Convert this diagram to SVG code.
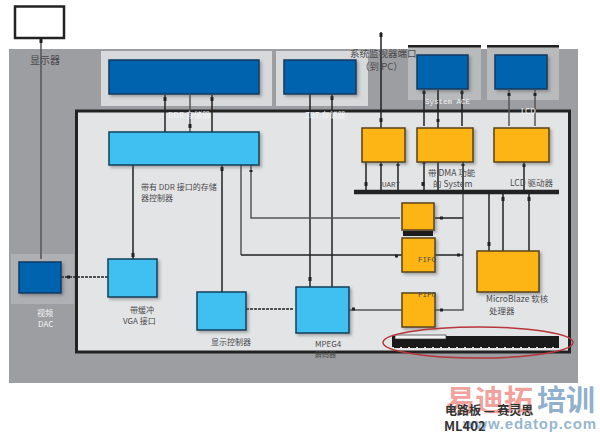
<svg xmlns="http://www.w3.org/2000/svg" width="600" height="433" viewBox="0 0 600 433">
<defs>
<filter id="sh" x="-15%" y="-15%" width="135%" height="135%"><feDropShadow dx="2" dy="2" stdDeviation="1.5" flood-color="#555" flood-opacity="0.45"/></filter>
</defs>
<style>
text{font-family:"Noto Sans CJK SC","Liberation Sans",sans-serif;font-size:8px;fill:#4a4a4c}
.w{fill:#f4f4f4}
.m{font-family:"Liberation Mono","Noto Sans CJK SC",monospace;font-size:7.500px}
.blue{fill:#0563ae;stroke:#0b3a63;stroke-width:1.5;filter:url(#sh)}
.cyan{fill:#41c0f0;stroke:#123f5c;stroke-width:1.5;filter:url(#sh)}
.or{fill:#fdb515;stroke:#5a4316;stroke-width:1.5;filter:url(#sh)}
.pan{fill:#d8d9db}
#wires path{fill:none;stroke:#222;stroke-width:1.5}
#wires .g{stroke:#555}
#wires .d{stroke-dasharray:3 1;stroke-width:1.6}
#wires .t{stroke-width:3}
</style>
<rect x="9" y="49" width="569" height="334" fill="#9d9ea1"/>
<rect class="pan" x="101" y="51" width="171" height="55"/>
<rect class="pan" x="276" y="51" width="92" height="55"/>
<rect x="408" y="47" width="73" height="53" fill="#b9babc"/>
<rect x="487" y="47" width="72" height="53" fill="#b9babc"/>
<rect x="11" y="254" width="63" height="50" fill="#aeb0b4"/>
<rect x="76.500" y="111" width="493" height="241" fill="#e3e4e6" stroke="#222" stroke-width="3"/>
<g id="bars"><rect x="408" y="45" width="73" height="2.500" fill="#222"/><rect x="487" y="45" width="72" height="2.500" fill="#222"/></g>
<g id="wires">
<path class="g" d="M41 38V259"/>
<path d="M165 95V132M212 95V132"/><path class="g" d="M190 95V132"/>
<path d="M310 94V287"/><path d="M332 94V287"/>
<path d="M381 32V128"/>
<path d="M424 90V126M438 90V128M462 90V126"/>
<path class="g" d="M509 90V126M535 90V126"/>
<path d="M366 162V192M381 162V192M398 162V192"/>
<path d="M424 162V192M438 162V192M463 162V192"/>
<path d="M524 162V192"/>
<path d="M489 192V251M503 192V251M529 192V251"/>
<path class="g" d="M463 192V310H435"/>
<path d="M435 218H463M435 255H463"/>
<path d="M133 165V259M222 165V292"/>
<path class="g" d="M241 165V255"/>
<path d="M241 255H402"/>
<path class="g" d="M251 165V218H400"/>
<path class="d" d="M61 277H108"/>
<path class="d" d="M246 309H294"/>
<path class="g" d="M349 310H402"/>
<path d="M354 192H559" style="stroke-width:4.500"/>
<path class="t" d="M41 39V43M165 97V101M212 97V101M190 124V128M332 96V100M381 33V37M381 118V122M424 91V94M462 91V94M438 119V122M509 93V96M535 93V96M366 182V186M423 182V186M381 164V166M398 164V166M424 162V164M463 164V166M524 164V167M503 197V201M529 197V201M489 242V246M222 167V171M251 170V172M133 253V257M310 277V281M67 277H70M352 309H355M440 310H443M440 218H443M457 255H460M395 256H398"/>
</g>
<g id="monitor"><rect x="15" y="6.500" width="49" height="31.500" fill="#fff" stroke="#222" stroke-width="2.500"/><text x="30" y="64" style="font-size:10px">显示器</text></g>
<g id="ddr-mem"><rect class="blue" x="109" y="60" width="150" height="34"/><text class="w" x="168" y="118">DDR 存储器</text></g>
<g id="zbt-mem"><rect class="blue" x="284" y="60" width="72" height="34"/><text class="w" x="305" y="118">ZBT 存储器</text></g>
<g id="system-ace"><rect class="blue" x="417" y="55" width="51" height="34"/><text class="m w" x="425" y="104">System ACE</text></g>
<g id="lcd"><rect class="blue" x="495" y="55" width="52" height="34"/><text class="w" x="521" y="114">LCD</text></g>
<g id="dac"><rect class="blue" x="19" y="262" width="42" height="31"/><text class="w" x="37" y="316">视频</text><text class="w" x="38" y="327">DAC</text></g>
<g id="ddr-ctrl"><rect class="cyan" x="109" y="132" width="150" height="33"/><text x="141" y="190">带有 DDR 接口的存储</text><text x="141" y="201">器控制器</text></g>
<g id="vga"><rect class="cyan" x="108" y="259" width="49" height="38"/><text x="130" y="313">带缓冲</text><text x="123" y="324">VGA 接口</text></g>
<g id="display-ctrl"><rect class="cyan" x="197" y="292" width="49" height="38"/><text x="211" y="345">显示控制器</text></g>
<g id="mpeg4"><rect class="cyan" x="296" y="287" width="53" height="46"/><text x="315" y="347">MPEG4</text><text x="315" y="357" style="font-size:7px">解码器</text></g>
<g id="uart"><rect class="or" x="362" y="128" width="43" height="34"/><text class="m" x="382" y="187">UART</text></g>
<g id="dma"><rect class="or" x="417" y="128" width="56" height="34"/><text x="428" y="176" style="font-size:8.500px">带 DMA 功能</text><text x="433" y="187" style="font-size:8.500px">的 System</text></g>
<g id="lcd-driver"><rect class="or" x="494" y="128" width="55" height="34"/><text x="510" y="186" style="font-size:8.500px">LCD 驱动器</text></g>
<g id="small-block"><rect class="or" x="402" y="203" width="32" height="27"/><rect x="403" y="231" width="30" height="5" fill="#1c1c1c"/></g>
<g id="fifo-a"><rect class="or" x="402" y="238" width="33" height="34"/><text class="m" x="418" y="262">FIFO</text></g>
<g id="fifo-b"><rect class="or" x="402" y="293" width="33" height="34"/><text class="m" x="418" y="297">FIFO</text></g>
<g id="microblaze"><rect class="or" x="477" y="251" width="62" height="41"/><text x="486" y="302" style="font-size:8.500px">MicroBlaze 软核</text><text x="489" y="314" style="font-size:8.500px">处理器</text></g>
<g id="bus"><rect x="392" y="336" width="167" height="12" fill="#1a1a1a"/><rect x="395" y="335" width="51" height="4" fill="#f2f2f2" stroke="#333" stroke-width=".7"/>
<path d="M392 347.500H559" stroke="#ddd" stroke-width="1" stroke-dasharray="2 6" fill="none"/>
<ellipse cx="478" cy="342.500" rx="95" ry="15.500" fill="none" stroke="#b8353a" stroke-width="1.500"/></g>
<g id="port-label"><text x="350" y="57" style="font-size:9.500px">系统监视器端口</text><text x="360" y="70" style="font-size:9.500px">（到 PC）</text></g>
<g id="footer">
<text x="446" y="411" style="font-size:29px;font-weight:700;fill:#f0908a;fill-opacity:.85">易迪拓</text>
<text x="537" y="411" style="font-size:29px;font-weight:700;fill:#7ba3c4;fill-opacity:.85">培训</text>
<text x="463" y="429" textLength="133" style="font-size:15px;font-weight:700;fill:#7ba3c4;fill-opacity:.8;font-family:'Liberation Sans',sans-serif">www.edatop.com</text>
<text x="445" y="415" style="font-size:12px;font-weight:700;fill:#333">电路板 — 赛灵思</text>
<text x="444" y="431" style="font-size:13px;font-weight:700;fill:#333">ML402</text>
</g>
</svg>
